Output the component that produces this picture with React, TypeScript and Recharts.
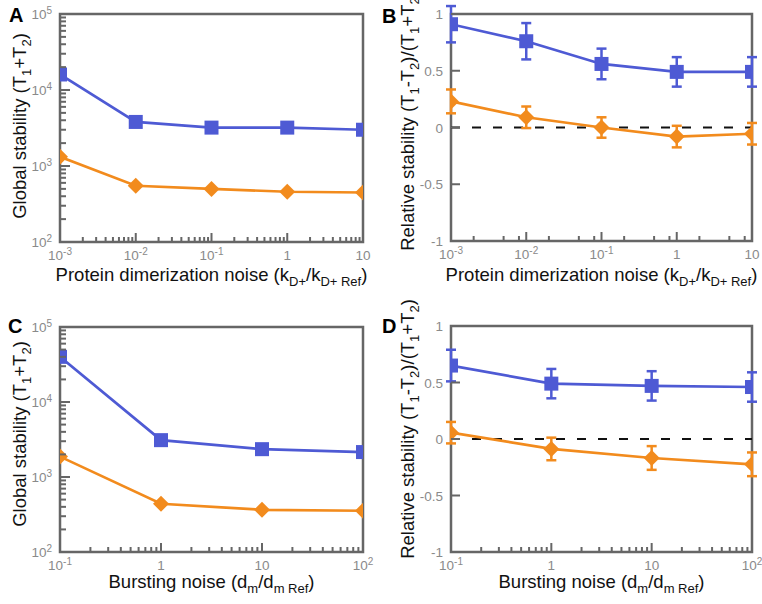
import React from "react";
import {
  LineChart,
  Line,
  XAxis,
  YAxis,
  ErrorBar,
  ReferenceArea,
  ReferenceLine,
} from "recharts";

const BLUE = "#4e5ad4";
const ORANGE = "#f28b1d";
const FRAME = "#666666";
const TICK_TEXT = "#8a8a8a";
const FONT = "'Liberation Sans', Arial, Helvetica, sans-serif";

// A / B: protein dimerization noise
const dimerX = [0.001, 0.01, 0.1, 1, 10];
const dimerGlobalBlue = [16000, 3800, 3200, 3200, 3000];
const dimerGlobalOrange = [1320, 550, 500, 458, 448];
const dimerRelBlue = [0.91, 0.76, 0.56, 0.49, 0.49];
const dimerRelBlueErr = [0.16, 0.16, 0.135, 0.13, 0.13];
const dimerRelOrange = [0.23, 0.09, 0.0, -0.08, -0.055];
const dimerRelOrangeErr = [0.105, 0.095, 0.09, 0.095, 0.095];

// C / D: bursting noise
const burstX = [0.1, 1, 10, 100];
const burstGlobalBlue = [40000, 3100, 2350, 2150];
const burstGlobalOrange = [1870, 440, 365, 355];
const burstRelBlue = [0.65, 0.49, 0.47, 0.46];
const burstRelBlueErr = [0.14, 0.13, 0.13, 0.13];
const burstRelOrange = [0.056, -0.088, -0.168, -0.224];
const burstRelOrangeErr = [0.095, 0.1, 0.105, 0.105];

// axis ticks
const dimerMajorX = [0.001, 0.01, 0.1, 1, 10];
const burstMajorX = [0.1, 1, 10, 100];
const globalMajorY = [100, 1000, 10000, 100000];
const relMajorY = [-1, -0.5, 0, 0.5, 1];
const allMinors = [2, 3, 4, 5, 6, 7, 8, 9];
const sparseMinors = [2, 5, 8];

// titles: [text, isSub]
type Part = [string, boolean];
const dimerXTitle: Part[] = [
  ["Protein dimerization noise (k", false],
  ["D+", true],
  ["/k", false],
  ["D+ Ref", true],
  [")", false],
];
const burstXTitle: Part[] = [
  ["Bursting noise (d", false],
  ["m", true],
  ["/d", false],
  ["m Ref", true],
  [")", false],
];
const globalYTitle: Part[] = [
  ["Global stability (T", false],
  ["1", true],
  ["+T", false],
  ["2", true],
  [")", false],
];
const relYTitle: Part[] = [
  ["Relative stability (T", false],
  ["1", true],
  ["-T", false],
  ["2", true],
  [")/(T", false],
  ["1", true],
  ["+T", false],
  ["2", true],
  [")", false],
];

const TITLE_SIZE = 18.5;
const SUB_SIZE = 13;
const TICK_SIZE = 13.5;

function withMinors(majors: number[], minors: number[]) {
  const out: number[] = [];
  majors.forEach((m, i) => {
    out.push(m);
    if (i < majors.length - 1) minors.forEach((k) => out.push(m * k));
  });
  return out;
}

function isMajor(v: number) {
  const l = Math.log10(v);
  return Math.abs(l - Math.round(l)) < 1e-6;
}

function PowLabel({ x, y, v, anchor }: any) {
  if (v === 1 || v === 10) {
    return (
      <text x={x} y={y} textAnchor={anchor} fontSize={TICK_SIZE} fill={TICK_TEXT} fontFamily={FONT}>
        {String(v)}
      </text>
    );
  }
  const exp = Math.round(Math.log10(v));
  return (
    <text x={x} y={y} textAnchor={anchor} fontSize={TICK_SIZE} fill={TICK_TEXT} fontFamily={FONT}>
      <tspan>10</tspan>
      <tspan fontSize={10} dy={-5.5}>
        {exp < 0 ? "-" + Math.abs(exp) : String(exp)}
      </tspan>
    </text>
  );
}

function LogXTick(props: any) {
  const { x, y, payload } = props;
  const major = isMajor(payload.value);
  return (
    <g>
      <line x1={x} x2={x} y1={y} y2={y - (major ? 9 : 5)} stroke={FRAME} strokeWidth={2} />
      {major && <PowLabel x={x} y={y + 18} v={payload.value} anchor="middle" />}
    </g>
  );
}

function LogYTick(props: any) {
  const { x, y, payload } = props;
  const major = isMajor(payload.value);
  return (
    <g>
      <line x1={x} x2={x + (major ? 10 : 6)} y1={y} y2={y} stroke={FRAME} strokeWidth={2} />
      {major && <PowLabel x={x - 8} y={y + 5} v={payload.value} anchor="end" />}
    </g>
  );
}

function LinYTick(props: any) {
  const { x, y, payload } = props;
  return (
    <g>
      <line x1={x} x2={x + 9} y1={y} y2={y} stroke={FRAME} strokeWidth={2} />
      <text x={x - 8} y={y + 5} textAnchor="end" fontSize={TICK_SIZE} fill={TICK_TEXT} fontFamily={FONT}>
        {String(payload.value)}
      </text>
    </g>
  );
}

function square(props: any) {
  const { cx, cy, index } = props;
  if (cx == null || cy == null) return <g key={`sq-${index}`} />;
  return <rect key={`sq-${index}`} x={cx - 7} y={cy - 7} width={14} height={14} fill={BLUE} />;
}

function diamond(props: any) {
  const { cx, cy, index } = props;
  if (cx == null || cy == null) return <g key={`dm-${index}`} />;
  const r = 8;
  return (
    <polygon
      key={`dm-${index}`}
      points={`${cx},${cy - r} ${cx + r},${cy} ${cx},${cy + r} ${cx - r},${cy}`}
      fill={ORANGE}
    />
  );
}

interface PanelProps {
  left: number;
  top: number;
  width: number;
  height: number;
  marginTop: number;
  marginRight: number;
  yAxisWidth: number;
  xAxisHeight: number;
  data: any[];
  xDomain: [number, number];
  xTicks: number[];
  logY: boolean;
  yDomain: [number, number];
  yTicks: number[];
  errors: boolean;
}

function Panel(p: PanelProps) {
  return (
    <div style={{ position: "absolute", left: p.left, top: p.top }}>
      <LineChart
        width={p.width}
        height={p.height}
        data={p.data}
        margin={{ top: p.marginTop, right: p.marginRight, bottom: 0, left: 0 }}
      >
        <XAxis
          dataKey="x"
          type="number"
          scale="log"
          domain={p.xDomain}
          ticks={p.xTicks}
          interval={0}
          height={p.xAxisHeight}
          axisLine={false}
          tickLine={false}
          tickSize={0}
          tickMargin={0}
          tick={<LogXTick />}
          allowDataOverflow
        />
        <YAxis
          type="number"
          scale={p.logY ? "log" : "linear"}
          domain={p.yDomain}
          ticks={p.yTicks}
          interval={0}
          width={p.yAxisWidth}
          axisLine={false}
          tickLine={false}
          tickSize={0}
          tickMargin={0}
          tick={p.logY ? <LogYTick /> : <LinYTick />}
          allowDataOverflow
        />
        <ReferenceArea
          x1={p.xDomain[0]}
          x2={p.xDomain[1]}
          y1={p.yDomain[0]}
          y2={p.yDomain[1]}
          fill="none"
          stroke={FRAME}
          strokeWidth={2.5}
          ifOverflow="visible"
        />
        {!p.logY && (
          <ReferenceLine y={0} stroke="#111" strokeWidth={2} strokeDasharray="9 12" />
        )}
        <Line
          dataKey="orange"
          stroke={ORANGE}
          strokeWidth={2.7}
          dot={diamond}
          activeDot={false}
          isAnimationActive={false}
        >
          {p.errors && (
            <ErrorBar dataKey="orangeErr" direction="y" width={5} strokeWidth={2.5} stroke={ORANGE} />
          )}
        </Line>
        <Line
          dataKey="blue"
          stroke={BLUE}
          strokeWidth={2.7}
          dot={square}
          activeDot={false}
          isAnimationActive={false}
        >
          {p.errors && (
            <ErrorBar dataKey="blueErr" direction="y" width={5} strokeWidth={2.5} stroke={BLUE} />
          )}
        </Line>
      </LineChart>
    </div>
  );
}

function Title({ x, y, parts, rotate }: { x: number; y: number; parts: Part[]; rotate?: boolean }) {
  let shift = 0;
  return (
    <text
      x={x}
      y={y}
      textAnchor="middle"
      fontSize={TITLE_SIZE}
      fill="#111"
      fontFamily={FONT}
      transform={rotate ? `rotate(-90 ${x} ${y})` : undefined}
    >
      {parts.map(([t, sub], i) => {
        const target = sub ? 4.5 : 0;
        const dy = target - shift;
        shift = target;
        return (
          <tspan key={i} dy={dy} fontSize={sub ? SUB_SIZE : TITLE_SIZE}>
            {t}
          </tspan>
        );
      })}
    </text>
  );
}

function Letter({ x, y, t }: { x: number; y: number; t: string }) {
  return (
    <text x={x} y={y} fontSize={20} fontWeight="bold" fill="#000" fontFamily={FONT}>
      {t}
    </text>
  );
}

export default function App() {
  const dimerGlobal = dimerX.map((x, i) => ({
    x,
    blue: dimerGlobalBlue[i],
    orange: dimerGlobalOrange[i],
  }));
  const dimerRel = dimerX.map((x, i) => ({
    x,
    blue: dimerRelBlue[i],
    blueErr: dimerRelBlueErr[i],
    orange: dimerRelOrange[i],
    orangeErr: dimerRelOrangeErr[i],
  }));
  const burstGlobal = burstX.map((x, i) => ({
    x,
    blue: burstGlobalBlue[i],
    orange: burstGlobalOrange[i],
  }));
  const burstRel = burstX.map((x, i) => ({
    x,
    blue: burstRelBlue[i],
    blueErr: burstRelBlueErr[i],
    orange: burstRelOrange[i],
    orangeErr: burstRelOrangeErr[i],
  }));

  const dimerDomain: [number, number] = [0.001, 10];
  const burstDomain: [number, number] = [0.1, 100];
  const globalDomain: [number, number] = [100, 100000];
  const relDomain: [number, number] = [-1, 1];

  return (
    <div style={{ position: "relative", width: 762, height: 604, background: "#fff", overflow: "hidden" }}>
      <style>{"body{margin:0}"}</style>
      <Panel
        left={0} top={0} width={380} height={300}
        marginTop={14} marginRight={17} yAxisWidth={60} xAxisHeight={58}
        data={dimerGlobal} xDomain={dimerDomain} xTicks={withMinors(dimerMajorX, allMinors)}
        logY yDomain={globalDomain} yTicks={withMinors(globalMajorY, allMinors)} errors={false}
      />
      <Panel
        left={380} top={0} width={382} height={300}
        marginTop={14} marginRight={10} yAxisWidth={71} xAxisHeight={59}
        data={dimerRel} xDomain={dimerDomain} xTicks={withMinors(dimerMajorX, sparseMinors)}
        logY={false} yDomain={relDomain} yTicks={relMajorY} errors
      />
      <Panel
        left={0} top={300} width={380} height={304}
        marginTop={27} marginRight={17} yAxisWidth={60} xAxisHeight={52}
        data={burstGlobal} xDomain={burstDomain} xTicks={withMinors(burstMajorX, allMinors)}
        logY yDomain={globalDomain} yTicks={withMinors(globalMajorY, allMinors)} errors={false}
      />
      <Panel
        left={380} top={300} width={382} height={304}
        marginTop={26} marginRight={10} yAxisWidth={71} xAxisHeight={52}
        data={burstRel} xDomain={burstDomain} xTicks={withMinors(burstMajorX, allMinors)}
        logY={false} yDomain={relDomain} yTicks={relMajorY} errors
      />
      <svg
        width={762}
        height={604}
        style={{ position: "absolute", left: 0, top: 0, pointerEvents: "none" }}
      >
        <Letter x={9} y={22} t="A" />
        <Letter x={382} y={23} t="B" />
        <Letter x={8} y={333} t="C" />
        <Letter x={382} y={333} t="D" />
        <Title x={211.5} y={281} parts={dimerXTitle} />
        <Title x={601.5} y={281} parts={dimerXTitle} />
        <Title x={211.5} y={588} parts={burstXTitle} />
        <Title x={601.5} y={588} parts={burstXTitle} />
        <Title x={26} y={126} parts={globalYTitle} rotate />
        <Title x={414} y={121} parts={relYTitle} rotate />
        <Title x={26} y={434} parts={globalYTitle} rotate />
        <Title x={414} y={429} parts={relYTitle} rotate />
      </svg>
    </div>
  );
}
